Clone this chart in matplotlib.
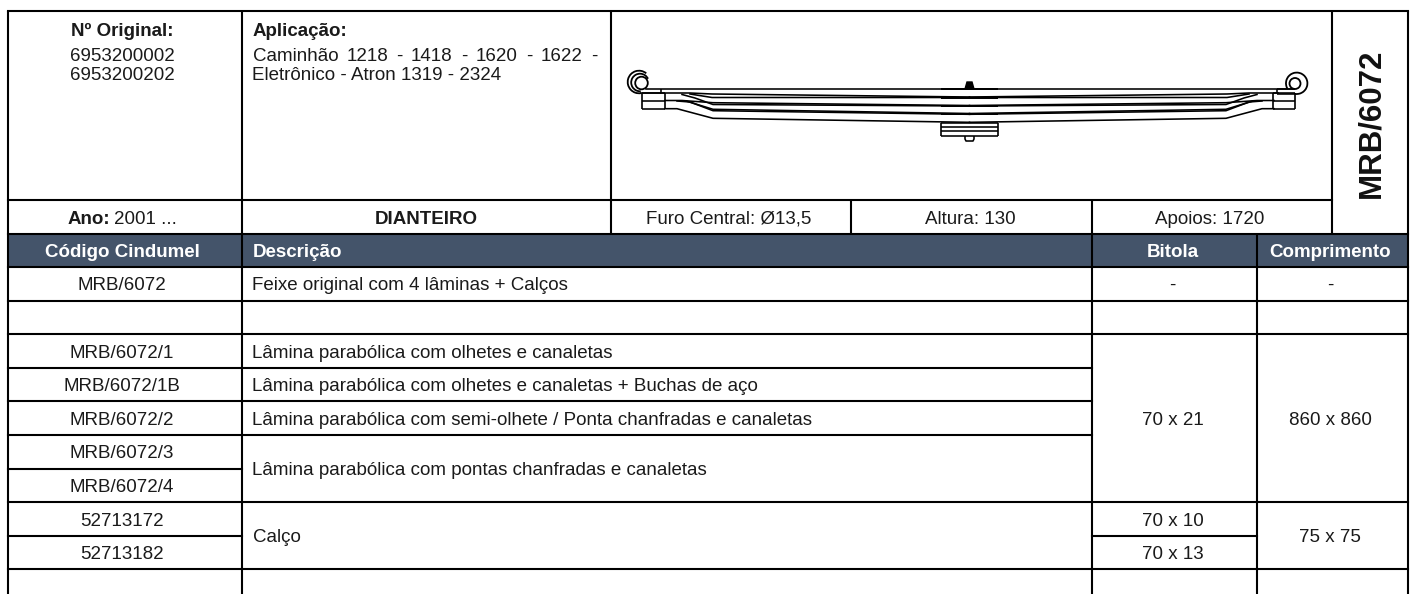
import numpy as np
import matplotlib
matplotlib.use('Agg')
import matplotlib.pyplot as plt
from matplotlib.patches import Rectangle, Arc, Circle

plt.rcParams['font.family'] = ['Liberation Sans', 'DejaVu Sans']

# table text
header = ['Código Cindumel', 'Descrição', 'Bitola', 'Comprimento']
codes = ['MRB/6072', '', 'MRB/6072/1', 'MRB/6072/1B', 'MRB/6072/2', 'MRB/6072/3', 'MRB/6072/4', '52713172', '52713182', '']
descriptions = ['Feixe original com 4 lâminas + Calços', '',
                'Lâmina parabólica com olhetes e canaletas',
                'Lâmina parabólica com olhetes e canaletas + Buchas de aço',
                'Lâmina parabólica com semi-olhete / Ponta chanfradas e canaletas',
                'Lâmina parabólica com pontas chanfradas e canaletas', 'Calço']
desc_rows = [0, 1, 2, 3, 4, 5.5, 7.5]
bitola = ['-', '70 x 21', '70 x 10', '70 x 13']
bitola_rows = [0, 4, 7, 8]
comprimento = ['-', '860 x 860', '75 x 75']
compr_rows = [0, 4, 7.5]
originals = ['6953200002', '6953200202']
aplicacao_1 = ['Caminhão', '1218', '-', '1418', '-', '1620', '-', '1622', '-']
aplicacao_2 = 'Eletrônico - Atron 1319 - 2324'
infos = ['Furo Central: Ø13,5', 'Altura: 130', 'Apoios: 1720']
ref = 'MRB/6072'

# grid positions in pixels
x_left, x_a, x_b, x_c, x_d, x_e, x_f, x_right = 8, 241.5, 611, 851, 1091.5, 1257, 1332, 1407.5
y_top, y_info, y_head, y_first = 11, 200, 233.5, 267
row_h = 33.6
row_y = [y_first + i * row_h for i in range(11)]
# text anchors sit a little left of the cell centres
x_code, x_desc, x_bitola, x_compr = 122, 252.5, 1172.5, 1330

# spring leaves, left half in pixels, mirrored around the centre
mid = 969.5
leaves = [
    ([646, mid], [89.3, 89.3]),
    ([661, 690, 712, mid], [93, 93, 94, 97]),
    ([690, 712, mid], [94, 97.5, 97.5]),
    ([665, 682, 713, mid], [100.5, 100.5, 102.7, 105.5]),
    ([682, 695, 713, mid], [94.5, 98, 104.5, 106]),
    ([686, 713, mid], [101, 109.3, 113.5]),
    ([677, 690, 713, mid], [101, 102, 110.7, 114.3]),
    ([665, 677, 713, mid], [108.7, 108.7, 118.3, 122.3]),
]

fig = plt.figure(figsize=(14.1, 5.94), dpi=100)
ax = fig.add_axes([0, 0, 1, 1])
ax.set_xlim(0, 1410)
ax.set_ylim(594, 0)
ax.axis('off')

ax.add_patch(Rectangle((x_left, y_head), x_right - x_left, y_first - y_head, fc='#44546a', ec='none'))

lw = 1.5
def hl(y, a, b):
    ax.plot([a, b], [y, y], color='black', lw=lw, solid_capstyle='projecting')
def vl(x, a, b):
    ax.plot([x, x], [a, b], color='black', lw=lw, solid_capstyle='butt')

# outer frame and info rows
hl(y_top, x_left, x_right)
hl(y_info, x_left, x_f)
hl(y_head, x_left, x_right)
hl(y_first, x_left, x_right)
vl(x_left, y_top, 594)
vl(x_right, y_top, 594)
vl(x_a, y_top, 594)
vl(x_b, y_top, y_head)
vl(x_c, y_info, y_head)
vl(x_d, y_info, 594)
vl(x_f, y_top, y_head)
vl(x_e, y_head, 594)

# rows
hl(row_y[1], x_left, x_right)
hl(row_y[2], x_left, x_right)
hl(row_y[3], x_left, x_d)
hl(row_y[4], x_left, x_d)
hl(row_y[5], x_left, x_d)
hl(row_y[6], x_left, x_a)
hl(row_y[7], x_left, x_right)
hl(row_y[8], x_left, x_a)
hl(row_y[8], x_d, x_e)
hl(row_y[9], x_left, x_right)

fs = 13.5
txt = '#1a1a1a'
def cell(x, y, s, ha='center', **kw):
    kw.setdefault('color', txt)
    kw.setdefault('fontsize', fs)
    return ax.text(x, y, s, ha=ha, va='center_baseline', **kw)

# top block
cell(x_code, 29, 'Nº Original:', fontweight='bold')
for i, s in enumerate(originals):
    cell(x_code, 54.5 + i * 19.5, s)
cell(x_desc, 29, 'Aplicação:', ha='left', fontweight='bold')

# first application line is justified up to the cell margin
renderer = fig.canvas.get_renderer()
parts = [cell(x_desc, 54.5, s, ha='left') for s in aplicacao_1]
widths = [p.get_window_extent(renderer).width for p in parts]
gap = (597 - x_desc - sum(widths)) / (len(parts) - 1)
pos = x_desc
for p, w in zip(parts, widths):
    p.set_x(pos)
    pos += w + gap
cell(x_desc, 74, aplicacao_2, ha='left')

cell(110, 217.5, 'Ano:', ha='right', fontweight='bold')
cell(114, 217.5, '2001 ...', ha='left')
cell((x_a + x_b) / 2, 217.5, 'DIANTEIRO', fontweight='bold')
cell(729, 217.5, infos[0])
cell(970, 217.5, infos[1])
cell(1210, 217.5, infos[2])
ax.text(1371.5, 123.5, ref, rotation=90, ha='center', va='center', fontsize=22.5, fontweight='bold', color='#111111')

# header row
yh = (y_head + y_first) / 2
cell(x_code, yh, header[0], color='white', fontweight='bold')
cell(x_desc, yh, header[1], ha='left', color='white', fontweight='bold')
cell(x_bitola, yh, header[2], color='white', fontweight='bold')
cell(x_compr, yh, header[3], color='white', fontweight='bold')

def row_mid(r):
    return y_first + (r + 0.5) * row_h

for r, s in enumerate(codes):
    cell(x_code, row_mid(r), s)
for r, s in zip(desc_rows, descriptions):
    cell(x_desc, row_mid(r), s, ha='left')
for r, s in zip(bitola_rows, bitola):
    cell(x_bitola, row_mid(r), s)
for r, s in zip(compr_rows, comprimento):
    cell(x_compr, row_mid(r), s)

# spring drawing
slw = 1.15
for xs, ys in leaves:
    xs = np.array(xs)
    ax.plot(xs, ys, color='black', lw=slw)
    ax.plot(2 * mid - xs, ys, color='black', lw=slw)

def sp(xs, ys, w=slw):
    ax.plot(xs, ys, color='black', lw=w, solid_capstyle='butt')

# heavier centre part of the leaves
for y in [89.3, 97.5, 105.7, 114.2]:
    sp([941, 998], [y, y], 1.4)

# end stacks
for y in [93, 100.7, 108.7]:
    sp([642, 665], [y, y])
    sp([1273, 1295], [y, y])
sp([642, 642], [93, 109], 1.2)
sp([665, 665], [93, 109], 1.2)
sp([1295, 1295], [93, 109], 1.2)
sp([1273, 1273], [93, 109], 1.2)
sp([661, 661], [89, 93])
sp([1277, 1277], [89, 93])

# eyes, angles run the other way because the y axis is flipped
ax.add_patch(Circle((641.5, 83), 6.3, fc='white', ec='black', lw=1.3))
ax.add_patch(Arc((640, 82.5), 17.6, 17.6, theta1=85, theta2=335, ec='black', lw=1.3))
ax.add_patch(Arc((639, 82), 22.6, 22.6, theta1=80, theta2=310, ec='black', lw=1.3))
sp([640, 661], [93.3, 93.3])
ax.add_patch(Circle((1295, 83.5), 5.5, fc='white', ec='black', lw=1.3))
ax.add_patch(Arc((1296.7, 83.3), 21.4, 21.4, theta1=150, theta2=460, ec='black', lw=1.3))
sp([1277, 1295], [89.3, 89.3])
sp([1277, 1295], [93.5, 93.5])

# centre clamp
for y in [122.5, 127, 130.5, 136]:
    sp([941, 998], [y, y])
sp([941, 941], [122.5, 136], 1.2)
sp([998, 998], [122.5, 136], 1.2)
ax.fill([965, 967, 972, 974], [89, 82, 82, 89], color='black')
sp([965, 965, 966, 973, 974, 974], [136, 139, 141, 141, 139, 136])

fig.savefig('out.png', dpi=100)
